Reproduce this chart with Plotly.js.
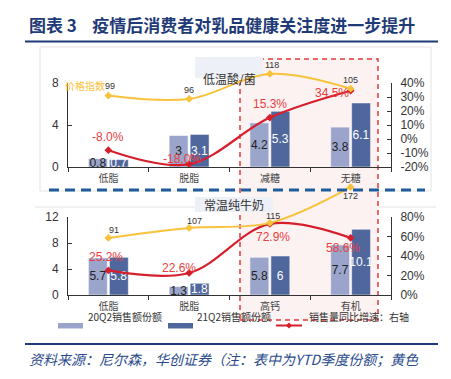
<!DOCTYPE html>
<html><head><meta charset="utf-8">
<script src="https://cdn.plot.ly/plotly-3.0.1.min.js"></script>
<style>html,body{margin:0;padding:0;background:#fff}#c{width:451px;height:379px}</style>
</head><body><div id="c"></div>
<script>
// ---- data ----
const catsTop = ['低脂','脱脂','减糖','无糖'];
const catsBot = ['低脂','脱脂','高钙','有机'];
const top20Q2 = [0.8, 3, 4.2, 3.8];
const top21Q2 = [0.7, 3.1, 5.3, 6.1];
const topYoY  = [-8.0, -18.0, 15.3, 34.5];
const topPrice = [99, 96, 118, 105];
const bot20Q2 = [5.7, 1.3, 5.8, 7.7];
const bot21Q2 = [5.8, 1.8, 6, 10.1];
const botYoY  = [25.2, 22.6, 72.9, 58.6];
const botPrice = [91, 107, 115, 172];
const topRightTicks = [-20,-10,0,10,20,30,40];
const botRightTicks = [0,20,40,60,80];
const legendNames = ['20Q2销售额份额','21Q2销售额份额','销售量同比增速：右轴'];

const W=451,H=379;
const fx=p=>p/W, fy=p=>1-p/H;
const C_LIGHT='#9BA5CB', C_DARK='#50679E', C_RED='#D61F2C', C_RED_T='#E8403F', C_YEL='#F8C23B', C_NAVY='#1F3B77';
const xDom=[fx(68),fx(391)];
const tickF={family:'Liberation Sans, Arial, sans-serif',size:12,color:'#333'};
const catF={family:'Noto Sans CJK SC, sans-serif',size:10,color:'#444'};

function bar(x,vals,color,tcol,xa,ya){
  return {type:'bar',x:x,y:vals,xaxis:xa,yaxis:ya,marker:{color:color,line:{color:'rgba(255,255,255,0.5)',width:1}},
    text:vals.map(v=>String(v)),textposition:'inside',insidetextanchor:'middle',constraintext:'none',textangle:0,
    textfont:{family:'Liberation Sans, Arial, sans-serif',size:12,color:tcol},hoverinfo:'skip',showlegend:false};
}
function line(x,vals,color,xa,ya,w){
  return {type:'scatter',mode:'lines+markers',x:x,y:vals,xaxis:xa,yaxis:ya,line:{color:color,width:w,shape:'spline',smoothing:1},
    marker:{symbol:'diamond',size:6,color:color},cliponaxis:false,hoverinfo:'skip',showlegend:false};
}
const data=[
  bar(catsTop,top20Q2,C_LIGHT,'#222','x','y'),
  bar(catsTop,top21Q2,C_DARK,'#fff','x','y'),
  line(catsTop,topPrice,C_YEL,'x3','y3',2),
  line(catsTop,topYoY,C_RED,'x','y2',2.2),
  bar(catsBot,bot20Q2,C_LIGHT,'#222','x2','y4'),
  bar(catsBot,bot21Q2,C_DARK,'#fff','x2','y4'),
  line(catsBot,botPrice,C_YEL,'x4','y6',2),
  line(catsBot,botYoY,C_RED,'x2','y5',2.2)
];

const baseX={domain:xDom,type:'category',range:[-0.5,3.5],showline:true,linecolor:'#333',linewidth:1,ticks:'outside',ticklen:4,tickcolor:'#333',tickson:'boundaries',showgrid:false,zeroline:false,tickfont:catF,ticklabelstandoff:2,fixedrange:true};
const baseY={showline:true,linecolor:'#333',linewidth:1,ticks:'inside',ticklen:4,tickcolor:'#333',showgrid:false,zeroline:false,tickfont:tickF,ticklabelstandoff:6,fixedrange:true};

const annotations=[];
function ann(o){annotations.push(Object.assign({showarrow:false},o));}
ann({xref:'paper',yref:'paper',x:fx(27),y:fy(24),xanchor:'left',yanchor:'middle',text:'<b>图表 3    疫情后消费者对乳品健康关注度进一步提升</b>',font:{family:'Noto Sans CJK SC, sans-serif',size:17,color:C_NAVY}});
ann({xref:'paper',yref:'paper',x:fx(27),y:fy(359),xanchor:'left',yanchor:'middle',text:'<i>资料来源：尼尔森，华创证券（注：表中为YTD季度份额；黄色</i>',font:{family:'Noto Sans CJK SC, sans-serif',size:14,color:'#2A4A8C'}});
ann({xref:'paper',yref:'paper',x:fx(27),y:fy(386),xanchor:'left',yanchor:'middle',text:'<i>线为各品类价格指数，以整体品类均价为100）</i>',font:{family:'Noto Sans CJK SC, sans-serif',size:14,color:'#2A4A8C'}});
ann({xref:'paper',yref:'paper',x:fx(229),y:fy(68),text:'低温酸/菌',font:{family:'Noto Sans CJK SC, sans-serif',size:12,color:'#333'}});
ann({xref:'paper',yref:'paper',x:fx(234),y:fy(204),text:'常温纯牛奶',font:{family:'Noto Sans CJK SC, sans-serif',size:12,color:'#333'}});
ann({xref:'paper',yref:'paper',x:fx(63),y:fy(76),xanchor:'left',text:'价格指数',font:{family:'Noto Sans CJK SC, sans-serif',size:10,color:C_YEL}});
const redF={family:'Liberation Sans, Arial, sans-serif',size:12,color:C_RED_T};
const topRedShift=[[0,13],[-7,5],[0,14],[-19,-2]];
const botRedShift=[[-2,13],[-10,5],[3,-13],[-8,-10]];
topYoY.forEach((v,i)=>ann({xref:'x',yref:'y2',x:catsTop[i],y:v,xshift:topRedShift[i][0],yshift:topRedShift[i][1],text:v.toFixed(1)+'%',font:redF}));
botYoY.forEach((v,i)=>ann({xref:'x2',yref:'y5',x:catsBot[i],y:v,xshift:botRedShift[i][0],yshift:botRedShift[i][1],text:v.toFixed(1)+'%',font:redF}));
const yelF={family:'Liberation Sans, Arial, sans-serif',size:9,color:'#333'};
const topYelShift=[[2,10],[0,9],[2,9],[0,9]];
const botYelShift=[[6,8],[5,7],[3,7],[0,-9]];
topPrice.forEach((v,i)=>ann({xref:'x3',yref:'y3',x:catsTop[i],y:v,xshift:topYelShift[i][0],yshift:topYelShift[i][1],text:String(v),font:yelF}));
botPrice.forEach((v,i)=>ann({xref:'x4',yref:'y6',x:catsBot[i],y:v,xshift:botYelShift[i][0],yshift:botYelShift[i][1],text:String(v),font:yelF}));
const legF={family:'Noto Sans CJK SC, sans-serif',size:10,color:'#333'};
ann({xref:'paper',yref:'paper',x:fx(86),y:fy(326),xanchor:'left',text:legendNames[0],font:legF});
ann({xref:'paper',yref:'paper',x:fx(195),y:fy(326),xanchor:'left',text:legendNames[1],font:legF});
ann({xref:'paper',yref:'paper',x:fx(307),y:fy(326),xanchor:'left',text:legendNames[2],font:legF});

const shapes=[
  {type:'rect',xref:'paper',yref:'paper',x0:fx(40),x1:fx(431),y0:fy(191),y1:fy(47),line:{color:'#E3E3E3',width:1},layer:'below'},
  {type:'line',xref:'paper',yref:'paper',x0:fx(35),x1:fx(436),y0:fy(207),y1:fy(207),line:{color:'#E3E3E3',width:1},layer:'below'},
  {type:'rect',xref:'paper',yref:'paper',x0:fx(240),x1:fx(378),y0:fy(320),y1:fy(59),fillcolor:'#FCF2F2',line:{color:'#E23A3A',width:1.5,dash:'5px,4px'},layer:'below'},
  {type:'rect',xref:'paper',yref:'paper',x0:fx(195),x1:fx(263),y0:fy(78),y1:fy(57),fillcolor:'#EDF0F6',line:{width:0},layer:'below'},
  {type:'rect',xref:'paper',yref:'paper',x0:fx(195),x1:fx(273),y0:fy(212),y1:fy(197),fillcolor:'#EDF0F6',line:{width:0},layer:'below'},
  {type:'line',xref:'paper',yref:'paper',x0:fx(49),x1:fx(425),y0:fy(190),y1:fy(190),line:{color:'#1F5C9E',width:3,dash:'10px,6px'}},
  {type:'line',xref:'paper',yref:'paper',x0:fx(25),x1:fx(438),y0:fy(41.5),y1:fy(41.5),line:{color:C_NAVY,width:2}},
  {type:'line',xref:'paper',yref:'paper',x0:fx(25),x1:fx(438),y0:fy(344),y1:fy(344),line:{color:C_NAVY,width:2}},
  {type:'rect',xref:'paper',yref:'paper',x0:fx(58),x1:fx(83),y0:fy(328.5),y1:fy(323),fillcolor:C_LIGHT,line:{width:0}},
  {type:'rect',xref:'paper',yref:'paper',x0:fx(168),x1:fx(193),y0:fy(328.5),y1:fy(323),fillcolor:C_DARK,line:{width:0}},
  {type:'line',xref:'paper',yref:'paper',x0:fx(276),x1:fx(302),y0:fy(325.5),y1:fy(325.5),line:{color:C_RED,width:2}},
  {type:'path',xref:'paper',yref:'paper',path:`M ${fx(289)} ${fy(322.5)} L ${fx(292)} ${fy(325.5)} L ${fx(289)} ${fy(328.5)} L ${fx(286)} ${fy(325.5)} Z`,fillcolor:C_RED,line:{color:C_RED,width:0}}
];

const layout={
  width:W,height:H,autosize:false,margin:{l:0,r:0,t:0,b:0,pad:0},
  paper_bgcolor:'#fff',plot_bgcolor:'rgba(0,0,0,0)',
  barmode:'group',bargap:0.48,bargroupgap:0.1,showlegend:false,
  xaxis:Object.assign({},baseX,{anchor:'y'}),
  yaxis:Object.assign({},baseY,{domain:[fy(167),fy(83)],range:[0,8],tickvals:[0,4,8],anchor:'x'}),
  yaxis2:Object.assign({},baseY,{overlaying:'y',side:'right',anchor:'x',range:[-20,40],tickmode:'array',tickvals:topRightTicks,ticktext:topRightTicks.map(v=>v+'%')}),
  xaxis3:{domain:xDom,type:'category',range:[-0.5,3.5],visible:false,anchor:'y3',fixedrange:true},
  yaxis3:{domain:[fy(167),fy(55)],range:[(208.4-167)/1.14,(208.4-55)/1.14],visible:false,anchor:'x3',fixedrange:true},
  xaxis2:Object.assign({},baseX,{anchor:'y4'}),
  yaxis4:Object.assign({},baseY,{domain:[fy(295),fy(217)],range:[0,12],tickvals:[0,4,8,12],anchor:'x2'}),
  yaxis5:Object.assign({},baseY,{overlaying:'y4',side:'right',anchor:'x2',range:[0,80],tickmode:'array',tickvals:botRightTicks,ticktext:botRightTicks.map(v=>v+'%')}),
  xaxis4:{domain:xDom,type:'category',range:[-0.5,3.5],visible:false,anchor:'y6',fixedrange:true},
  yaxis6:{domain:[fy(295),fy(178)],range:[0,(295-178)/0.627],visible:false,anchor:'x4',fixedrange:true},
  annotations:annotations,shapes:shapes
};
Plotly.newPlot('c',data,layout,{displayModeBar:false,staticPlot:true});
</script></body></html>
